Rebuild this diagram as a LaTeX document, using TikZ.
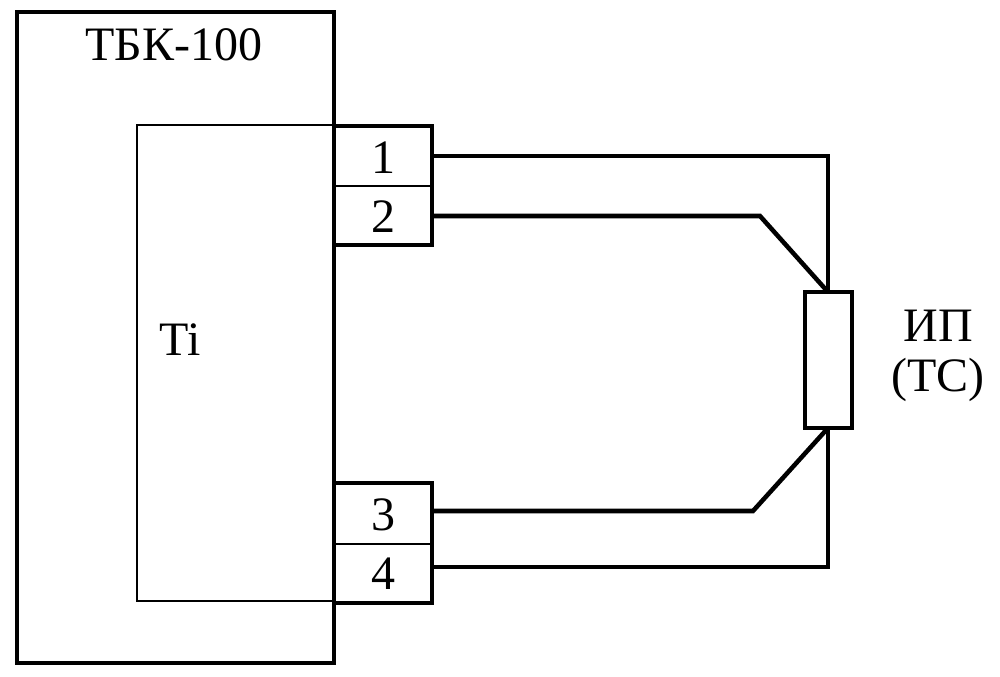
\documentclass[tikz,border=0pt]{standalone}
\usepackage{fontspec}
\setmainfont{Liberation Serif}
\begin{document}
\begin{tikzpicture}[x=0.75pt,y=-0.75pt,
  thickline/.style={line width=3pt,line join=miter},
  thinline/.style={line width=0.8pt},
  box/.style={draw,thickline,inner sep=0pt,rectangle},
  lbl/.style={inner sep=0pt,font=\fontsize{36pt}{40pt}\selectfont},
  wire/.style={line width=3.4pt,line join=miter}]
\useasboundingbox (0,0) rectangle (1000,677);
% inner thin rectangle
\node[draw,thinline,inner sep=0pt,minimum width=147.75pt,minimum height=357pt] (inner) at (235.5,363) {};
% outer device box
\node[box,minimum width=237.75pt,minimum height=488.25pt] (dev) at (175.5,337.5) {};
% terminal blocks
\node[box,fill=white,minimum width=73.5pt,minimum height=89.25pt] (tbA) at (383,185.5) {};
\node[box,fill=white,minimum width=73.5pt,minimum height=90pt] (tbB) at (383,543) {};
\coordinate (dA1) at (334,186);
\coordinate (dA2) at (432,186);
\coordinate (dB1) at (334,544);
\coordinate (dB2) at (432,544);
\draw[thinline] (dA1) -- (dA2);
\draw[thinline] (dB1) -- (dB2);
% resistor
\node[box,minimum width=35.25pt,minimum height=102pt] (r) at (828.5,360) {};
% labels
\node[lbl] (title) at (174,45) {ТБК-100};
\node[lbl] (ti) at (180,340) {Ti};
\node[lbl] (n1) at (383,158) {1};
\node[lbl] (n2) at (383,217) {2};
\node[lbl] (n3) at (383,515) {3};
\node[lbl] (n4) at (383,574) {4};
\node[lbl] (ip) at (938,326) {ИП};
\node[lbl] (tc) at (938,380) {(ТС)};
% wire anchor points
\coordinate (w1) at (432,156);
\coordinate (w2) at (432,216);
\coordinate (w3) at (432,511);
\coordinate (w4) at (432,567);
\coordinate (b2) at (760,216);
\coordinate (b3) at (753,511);
\coordinate (rt) at (828,292);
\coordinate (rb) at (828,428);
\draw[wire] (w1) -| (rt);
\draw[wire] (w2) -- (b2) -- (rt);
\draw[wire] (w3) -- (b3) -- (rb);
\draw[wire] (w4) -| (rb);
\end{tikzpicture}
\end{document}
